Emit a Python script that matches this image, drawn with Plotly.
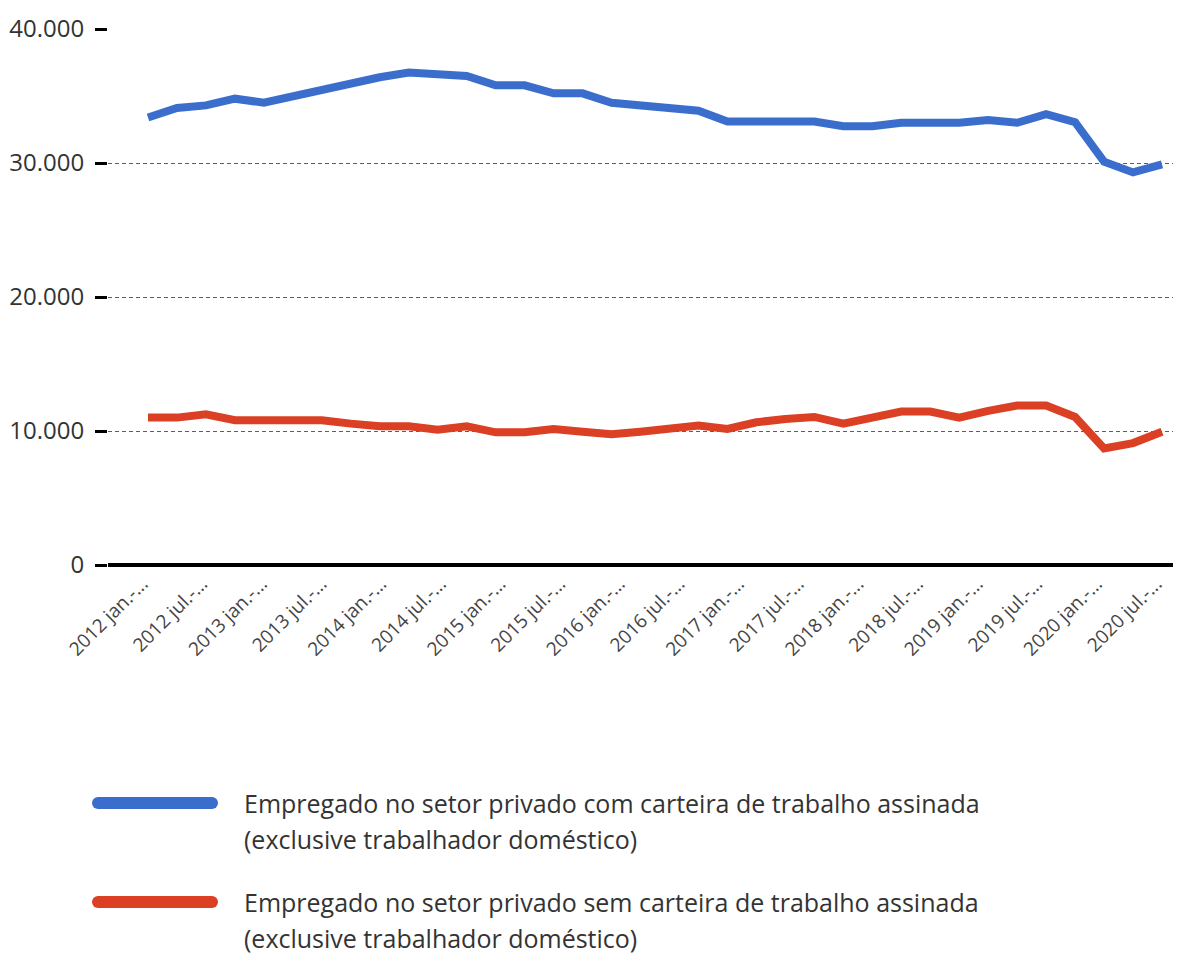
import numpy as np
import plotly.graph_objects as go

# ---------------- data ----------------
years = list(range(2012, 2021))
quarters = ["jan.-fev.-mar.", "abr.-mai.-jun.", "jul.-ago.-set.", "out.-nov.-dez."]
categories = [f"{y} {q}" for y in years for q in quarters]  # 36 quarters

com_carteira = [
    33400, 34100, 34300, 34800, 34500, 35000, 35500, 36000, 36400, 36750,
    36600, 36500, 35800, 35800, 35200, 35200, 34500, 34300, 34100, 33900,
    33100, 33100, 33100, 33100, 32750, 32750, 33000, 33000, 33000, 33200,
    33000, 33650, 33050, 30100, 29300, 29900,
]
sem_carteira = [
    11000, 11000, 11250, 10800, 10800, 10800, 10800, 10550, 10350, 10350,
    10100, 10350, 9900, 9900, 10150, 9950, 9750, 9950, 10150, 10400,
    10150, 10650, 10900, 11050, 10550, 11000, 11450, 11450, 11000, 11500,
    11900, 11900, 11050, 8700, 9100, 9950,
]

tick_labels = [f"{y} {m}.-..." for y in years for m in ("jan", "jul")]

series_names = [
    "Empregado no setor privado com carteira de trabalho assinada (exclusive trabalhador doméstico)",
    "Empregado no setor privado sem carteira de trabalho assinada (exclusive trabalhador doméstico)",
]
legend_lines = [
    ["Empregado no setor privado com carteira de trabalho assinada", "(exclusive trabalhador doméstico)"],
    ["Empregado no setor privado sem carteira de trabalho assinada", "(exclusive trabalhador doméstico)"],
]
series_values = [com_carteira, sem_carteira]
colors = ["#3B6ECC", "#DB3F24"]

# ---------------- figure ----------------
OFF = 8  # page body margin
W, H = 1181 - OFF, 956 - OFF
ML, MR, MT, MB = 100, 0, 21, 388
FONT = "Open Sans"
TXT = "#333333"

x_idx = list(range(len(categories)))

fig = go.Figure()
for name, vals, col in zip(series_names, series_values, colors):
    fig.add_trace(go.Scatter(
        x=x_idx, y=vals, mode="lines", name=name,
        customdata=categories,
        line=dict(color=col, width=8),
        showlegend=False,
        hovertemplate="%{customdata}<br>%{y:,.0f}<extra></extra>",
    ))

n = len(categories)
tickvals = list(np.linspace(0, n - 1, len(tick_labels)) - 0.2)

fig.update_layout(
    width=W, height=H,
    margin=dict(l=ML, r=MR, t=MT, b=MB),
    paper_bgcolor="white", plot_bgcolor="white",
    separators=",.",
    font=dict(family=FONT, color=TXT),
    xaxis=dict(
        range=[-40 / 28.97, (n - 1) + 19 / 28.97],
        tickmode="array", tickvals=tickvals, ticktext=tick_labels,
        tickangle=-45, tickfont=dict(size=19, color="#444"),
        showgrid=False, zeroline=False, showline=False, ticks="",
    ),
    yaxis=dict(
        range=[-224, 40000], tickmode="linear", tick0=0, dtick=10000,
        tickformat=",d", tickfont=dict(size=24, color=TXT),
        ticks="outside", ticklen=12, tickwidth=3, tickcolor="black",
        ticklabelstandoff=6,
        showgrid=True, gridcolor="#5e5e5e", gridwidth=1.2, griddash="4px,3px",
        zeroline=True, zerolinecolor="black", zerolinewidth=4,
        showline=False,
    ),
)

# ---------------- custom legend ----------------
plot_w = W - ML - MR
plot_h = H - MT - MB


def xp(px):
    return (px - OFF - ML) / plot_w


def yp(py):
    return (H - MB - (py - OFF)) / plot_h


legend_y = [803, 902]
line_gap = 36
for lines, col, ly in zip(legend_lines, colors, legend_y):
    fig.add_shape(type="line", xref="paper", yref="paper",
                  x0=xp(98), x1=xp(212), y0=yp(ly), y1=yp(ly),
                  line=dict(color=col, width=12))
    for cx in (98, 212):
        fig.add_shape(type="circle", xref="paper", yref="paper",
                      xsizemode="pixel", ysizemode="pixel",
                      xanchor=xp(cx), yanchor=yp(ly),
                      x0=-6, x1=6, y0=-6, y1=6,
                      fillcolor=col, line=dict(width=0))
    for k, txt in enumerate(lines):
        fig.add_annotation(xref="paper", yref="paper",
                           x=xp(243), y=yp(ly + k * line_gap),
                           xanchor="left", yanchor="middle",
                           text=txt, showarrow=False, borderpad=0,
                           font=dict(size=25, color=TXT, family=FONT))

fig.write_html("out.html")
